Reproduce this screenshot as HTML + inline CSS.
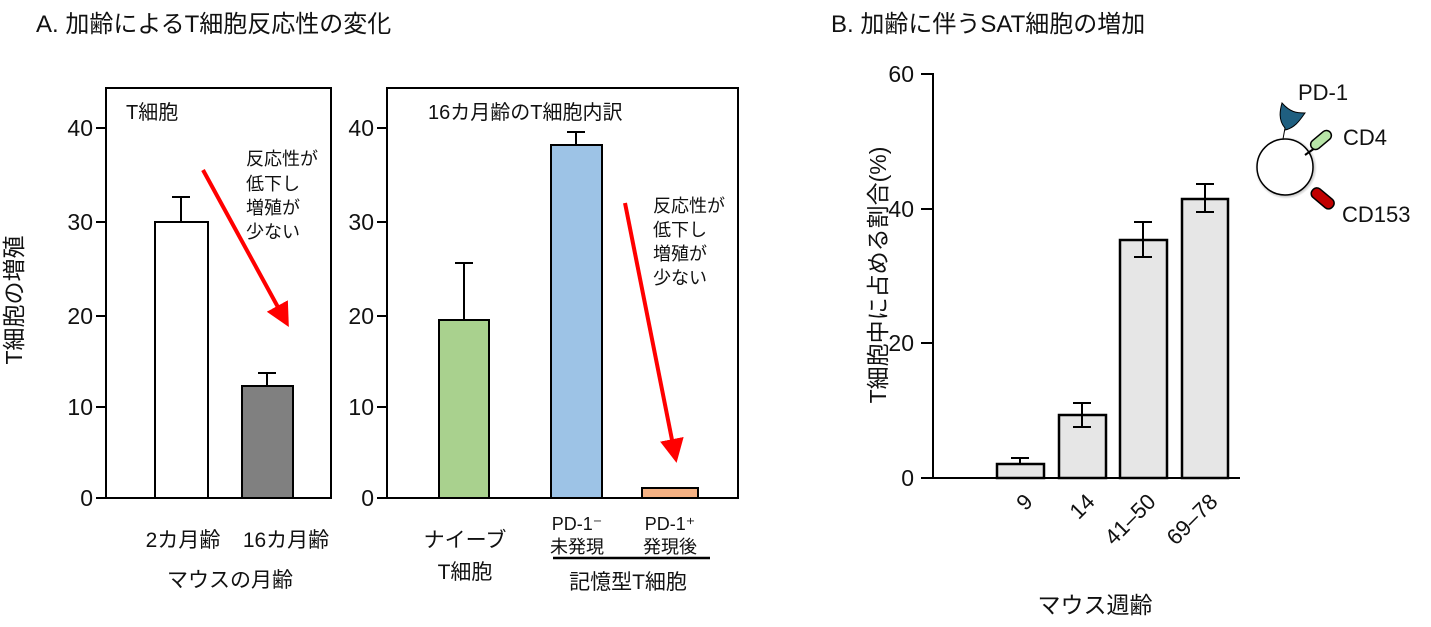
<!DOCTYPE html>
<html><head><meta charset="utf-8"><style>
body{margin:0;background:#fff}
text{font-family:"Liberation Sans","Noto Sans CJK JP",sans-serif;fill:#111}
</style></head><body>
<svg width="1431" height="622" viewBox="0 0 1431 622" xmlns="http://www.w3.org/2000/svg">
<defs><marker id="ah" markerWidth="6" markerHeight="6" refX="4" refY="3" orient="auto" markerUnits="strokeWidth"><path d="M0,0 L6,3 L0,6 Z" fill="#f00"/></marker>
<radialGradient id="sh"><stop offset="80%" stop-color="#000" stop-opacity="0.4"/><stop offset="100%" stop-color="#000" stop-opacity="0"/></radialGradient></defs>
<text x="36" y="32" font-size="24">A.  加齢によるT細胞反応性の変化</text>
<text x="831" y="32" font-size="24">B.  加齢に伴うSAT細胞の増加</text>
<!-- Panel A left -->
<g stroke="#000" stroke-width="2" fill="none">
<rect x="106" y="88" width="225" height="410"/>
<line x1="96" y1="498" x2="106" y2="498"/><line x1="96" y1="407" x2="106" y2="407"/><line x1="96" y1="316" x2="106" y2="316"/><line x1="96" y1="222" x2="106" y2="222"/><line x1="96" y1="128" x2="106" y2="128"/>
<rect x="155" y="222" width="53" height="276" fill="#fff"/>
<rect x="242" y="386" width="51" height="112" fill="#808080"/>
<line x1="181" y1="222" x2="181" y2="197"/><line x1="172" y1="197" x2="190" y2="197"/>
<line x1="267" y1="386" x2="267" y2="373"/><line x1="258" y1="373" x2="276" y2="373"/>
</g>
<g font-size="23" text-anchor="end"><text x="93" y="506">0</text><text x="93" y="415">10</text><text x="93" y="324">20</text><text x="93" y="230">30</text><text x="93" y="136">40</text></g>
<text x="126" y="119" font-size="20">T細胞</text>
<line x1="203" y1="170" x2="285" y2="320" stroke="#f00" stroke-width="4" marker-end="url(#ah)"/>
<g font-size="18"><text x="246" y="165">反応性が</text><text x="246" y="190">低下し</text><text x="246" y="214">増殖が</text><text x="246" y="238">少ない</text></g>
<text x="22" y="300" font-size="23" text-anchor="middle" transform="rotate(-90 22 300)">T細胞の増殖</text>
<g font-size="21" text-anchor="middle"><text x="183" y="547">2カ月齢</text><text x="286" y="547">16カ月齢</text><text x="230" y="587">マウスの月齢</text></g>
<!-- Panel A right -->
<g stroke="#000" stroke-width="2" fill="none">
<rect x="387" y="88" width="351" height="410"/>
<line x1="377" y1="498" x2="387" y2="498"/><line x1="377" y1="407" x2="387" y2="407"/><line x1="377" y1="316" x2="387" y2="316"/><line x1="377" y1="222" x2="387" y2="222"/><line x1="377" y1="128" x2="387" y2="128"/>
<rect x="439" y="320" width="50" height="178" fill="#a9d18e"/>
<rect x="551" y="145" width="51" height="353" fill="#9dc3e6"/>
<rect x="642" y="488" width="56" height="10" fill="#f4b183"/>
<line x1="464" y1="320" x2="464" y2="263"/><line x1="455" y1="263" x2="473" y2="263"/>
<line x1="576" y1="145" x2="576" y2="132"/><line x1="567" y1="132" x2="585" y2="132"/>
<line x1="553" y1="558" x2="710" y2="558" stroke-width="2.5"/>
</g>
<g font-size="23" text-anchor="end"><text x="374" y="506">0</text><text x="374" y="415">10</text><text x="374" y="324">20</text><text x="374" y="230">30</text><text x="374" y="136">40</text></g>
<text x="428" y="119" font-size="20">16カ月齢のT細胞内訳</text>
<line x1="625" y1="203" x2="675" y2="455" stroke="#f00" stroke-width="4" marker-end="url(#ah)"/>
<g font-size="18"><text x="653" y="212">反応性が</text><text x="653" y="236">低下し</text><text x="653" y="260">増殖が</text><text x="653" y="284">少ない</text></g>
<g text-anchor="middle"><text x="465" y="547" font-size="21">ナイーブ</text><text x="465" y="579" font-size="21">T細胞</text>
<text x="577" y="530" font-size="18">PD-1⁻</text><text x="577" y="553" font-size="18">未発現</text>
<text x="670" y="530" font-size="18">PD-1⁺</text><text x="670" y="553" font-size="18">発現後</text>
<text x="628" y="589" font-size="21">記憶型T細胞</text></g>
<!-- Panel B -->
<g stroke="#000" stroke-width="2" fill="none">
<line x1="933" y1="73" x2="933" y2="478"/><line x1="933" y1="478" x2="1240" y2="478"/>
<line x1="921" y1="478" x2="933" y2="478"/><line x1="921" y1="343" x2="933" y2="343"/><line x1="921" y1="209" x2="933" y2="209"/><line x1="921" y1="74" x2="933" y2="74"/>
<g fill="#e6e6e6" stroke-width="2.5">
<rect x="997" y="464" width="47" height="14"/><rect x="1059" y="415" width="47" height="63"/><rect x="1120" y="240" width="47" height="238"/><rect x="1182" y="199" width="46" height="279"/></g>
<line x1="1020" y1="464" x2="1020" y2="458"/><line x1="1011" y1="458" x2="1029" y2="458"/>
<line x1="1082" y1="403" x2="1082" y2="427"/><line x1="1073" y1="403" x2="1091" y2="403"/><line x1="1073" y1="427" x2="1091" y2="427"/>
<line x1="1143" y1="222" x2="1143" y2="257"/><line x1="1134" y1="222" x2="1152" y2="222"/><line x1="1134" y1="257" x2="1152" y2="257"/>
<line x1="1205" y1="184" x2="1205" y2="212"/><line x1="1196" y1="184" x2="1214" y2="184"/><line x1="1196" y1="212" x2="1214" y2="212"/>
</g>
<g font-size="23" text-anchor="end"><text x="914" y="486">0</text><text x="914" y="351">20</text><text x="914" y="217">40</text><text x="914" y="82">60</text></g>
<g font-size="22" text-anchor="end">
<text transform="translate(1034,503) rotate(-45)">9</text>
<text transform="translate(1096,503) rotate(-45)">14</text>
<text transform="translate(1157,503) rotate(-45)">41–50</text>
<text transform="translate(1219,503) rotate(-45)">69–78</text></g>
<text x="1095" y="613" font-size="23" text-anchor="middle">マウス週齢</text>
<text x="886" y="275" font-size="23" text-anchor="middle" transform="rotate(-90 886 275)">T細胞中に占める割合(%)</text>
<!-- cell icon -->
<circle cx="1286" cy="168" r="31" fill="url(#sh)"/>
<circle cx="1285" cy="167" r="28" fill="#fff" stroke="#000" stroke-width="1.5"/>
<path d="M1283,139 L1285,128 C1278,120 1280,110 1282,103 C1290,112 1296,113 1305,113 C1300,120 1295,128 1285,130" fill="#1f5f80" stroke="#000" stroke-width="1"/>
<line x1="1305" y1="155" x2="1315" y2="148" stroke="#000" stroke-width="2"/>
<rect x="1309" y="135" width="24" height="10" rx="5" fill="#b7e4a7" stroke="#000" stroke-width="1.5" transform="rotate(-40 1321 140)"/>
<rect x="1310" y="193" width="26" height="11" rx="5" fill="#c00000" stroke="#000" stroke-width="1.5" transform="rotate(40 1323 198)"/>
<text x="1298" y="100" font-size="22">PD-1</text>
<text x="1343" y="145" font-size="22">CD4</text>
<text x="1342" y="222" font-size="22">CD153</text>
</svg>
</body></html>
